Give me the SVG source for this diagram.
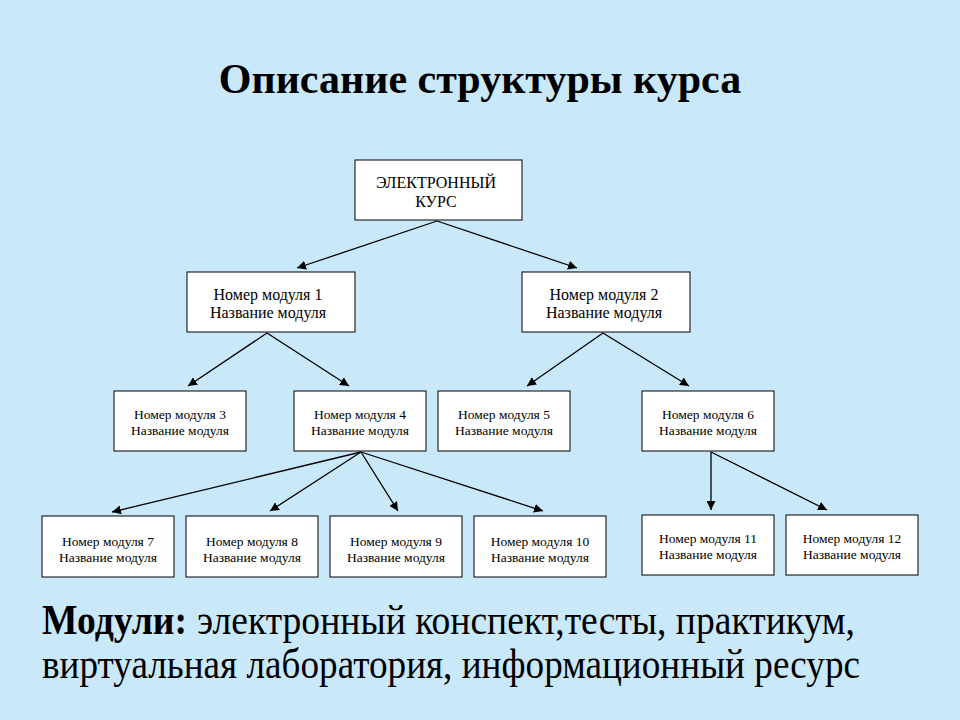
<svg xmlns="http://www.w3.org/2000/svg" width="960" height="720" viewBox="0 0 960 720">
<defs>
<marker id="ah" viewBox="0 0 10 10" refX="10" refY="5" markerWidth="9" markerHeight="9" markerUnits="userSpaceOnUse" orient="auto">
<path d="M0,0 L10,5 L0,10 z" fill="#000"/>
</marker>
<style>
.box{fill:#fff;stroke:#000;stroke-width:1}
.t{font-family:"Liberation Serif","Times New Roman",serif;fill:#000;text-anchor:middle}
.s{font-size:13.5px}
.m{font-size:16px}
.b{font-family:"Liberation Serif","Times New Roman",serif;font-size:42px;fill:#000}
.c line{stroke:#000;stroke-width:1.3;marker-end:url(#ah)}
</style>
</defs>
<rect x="0" y="0" width="960" height="720" fill="#c9e9fa"/>
<text x="480" y="93" class="t" style="font-size:42px;font-weight:bold">Описание структуры курса</text>
<g class="c" id="connectors">
<line x1="437" y1="221" x2="297" y2="268"/>
<line x1="437" y1="221" x2="577" y2="268"/>
<line x1="267" y1="333" x2="188" y2="386"/>
<line x1="267" y1="333" x2="349" y2="386"/>
<line x1="603" y1="333" x2="527" y2="386"/>
<line x1="603" y1="333" x2="689" y2="386"/>
<line x1="361" y1="452" x2="112" y2="512"/>
<line x1="361" y1="452" x2="270" y2="511"/>
<line x1="361" y1="452" x2="398" y2="511"/>
<line x1="361" y1="452" x2="543" y2="511"/>
<line x1="711" y1="452" x2="711" y2="510"/>
<line x1="711" y1="452" x2="827" y2="510"/>
</g>
<g id="root"><rect class="box" x="355" y="160" width="167" height="60"/>
<text class="t m" x="436" y="188">ЭЛЕКТРОННЫЙ</text><text class="t m" x="436" y="207">КУРС</text></g>
<g id="m1"><rect class="box" x="187" y="272" width="168" height="60"/>
<text class="t m" x="268" y="300">Номер модуля 1</text><text class="t m" x="268" y="318">Название модуля</text></g>
<g id="m2"><rect class="box" x="522" y="272" width="168" height="60"/>
<text class="t m" x="604" y="300">Номер модуля 2</text><text class="t m" x="604" y="318">Название модуля</text></g>
<g id="m3"><rect class="box" x="114" y="391" width="132" height="60"/>
<text class="t s" x="180" y="419">Номер модуля 3</text><text class="t s" x="180" y="435">Название модуля</text></g>
<g id="m4"><rect class="box" x="294" y="391" width="132" height="60"/>
<text class="t s" x="360" y="419">Номер модуля 4</text><text class="t s" x="360" y="435">Название модуля</text></g>
<g id="m5"><rect class="box" x="438" y="391" width="132" height="60"/>
<text class="t s" x="504" y="419">Номер модуля 5</text><text class="t s" x="504" y="435">Название модуля</text></g>
<g id="m6"><rect class="box" x="642" y="391" width="132" height="60"/>
<text class="t s" x="708" y="419">Номер модуля 6</text><text class="t s" x="708" y="435">Название модуля</text></g>
<g id="m7"><rect class="box" x="42" y="516" width="132" height="61"/>
<text class="t s" x="108" y="546">Номер модуля 7</text><text class="t s" x="108" y="562">Название модуля</text></g>
<g id="m8"><rect class="box" x="186" y="516" width="132" height="61"/>
<text class="t s" x="252" y="546">Номер модуля 8</text><text class="t s" x="252" y="562">Название модуля</text></g>
<g id="m9"><rect class="box" x="330" y="516" width="132" height="61"/>
<text class="t s" x="396" y="546">Номер модуля 9</text><text class="t s" x="396" y="562">Название модуля</text></g>
<g id="m10"><rect class="box" x="474" y="516" width="132" height="61"/>
<text class="t s" x="540" y="546">Номер модуля 10</text><text class="t s" x="540" y="562">Название модуля</text></g>
<g id="m11"><rect class="box" x="642" y="515" width="132" height="60"/>
<text class="t s" x="708" y="543">Номер модуля 11</text><text class="t s" x="708" y="559">Название модуля</text></g>
<g id="m12"><rect class="box" x="786" y="515" width="132" height="60"/>
<text class="t s" x="852" y="543">Номер модуля 12</text><text class="t s" x="852" y="559">Название модуля</text></g>
<text class="b" x="42" y="634" font-weight="bold" textLength="145" lengthAdjust="spacingAndGlyphs">Модули:</text>
<text class="b" x="197" y="634" textLength="658" lengthAdjust="spacingAndGlyphs">электронный конспект,тесты, практикум,</text>
<text class="b" x="42" y="678" textLength="818" lengthAdjust="spacingAndGlyphs">виртуальная лаборатория, информационный ресурс</text>
</svg>
